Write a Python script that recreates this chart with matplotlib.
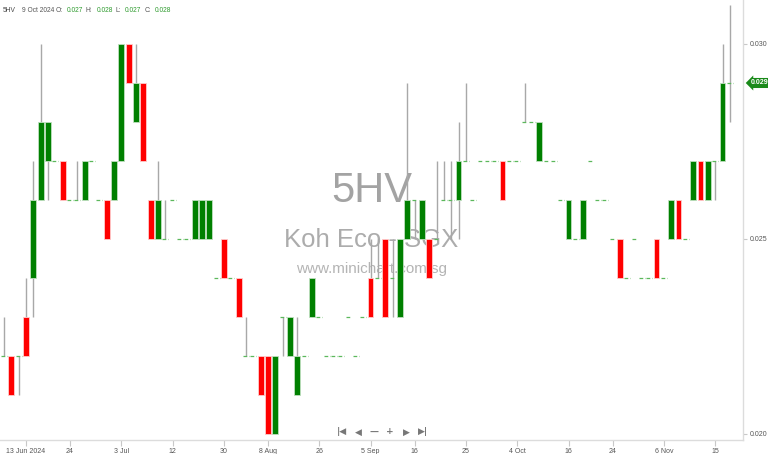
import numpy as np
import matplotlib.pyplot as plt
from matplotlib import transforms

# daily OHLC, one entry per trading day (13 Jun 2024 is index 3)
opens = [.022, .022, .022, .023, .024, .026, .027, .027, .027, .026,
         .026, .026, .027, .026, .026, .026, .027, .030, .028, .029,
         .026, .025, .025, .026, .025, .025, .025, .025, .025, .024,
         .025, .024, .024, .022, .022, .022, .022, .020, .023, .022,
         .021, .022, .023, .023, .022, .022, .022, .023, .022, .023,
         .024, .024, .025, .024, .023, .025, .026, .025, .025, .025,
         .026, .026, .026, .027, .026, .027, .027, .027, .027, .027,
         .027, .028, .028, .027, .027, .027, .026, .025, .025, .025,
         .027, .026, .026, .025, .025, .024, .025, .024, .024, .025,
         .024, .025, .026, .025, .026, .027, .026, .027, .027, .029]
highs = [.023, .022, .022, .024, .027, .030, .028, .027, .027, .026,
         .027, .027, .027, .026, .026, .027, .030, .030, .030, .029,
         .026, .027, .026, .026, .025, .025, .026, .026, .026, .024,
         .025, .024, .024, .023, .022, .022, .022, .022, .023, .023,
         .023, .022, .024, .023, .022, .022, .022, .023, .022, .023,
         .025, .025, .025, .025, .025, .029, .026, .026, .025, .027,
         .027, .027, .028, .029, .026, .027, .027, .027, .027, .027,
         .027, .029, .028, .028, .027, .027, .026, .026, .025, .026,
         .027, .026, .026, .025, .025, .024, .025, .024, .024, .025,
         .024, .026, .026, .025, .027, .027, .027, .027, .030, .031]
lows = [.022, .021, .021, .022, .023, .026, .026, .027, .026, .026,
        .026, .026, .027, .026, .025, .026, .027, .029, .028, .027,
        .025, .025, .025, .026, .025, .025, .025, .025, .025, .024,
        .024, .024, .023, .022, .022, .021, .020, .020, .022, .022,
        .021, .022, .023, .023, .022, .022, .022, .023, .022, .023,
        .023, .024, .023, .023, .023, .025, .025, .025, .024, .025,
        .026, .025, .025, .027, .026, .027, .027, .027, .026, .027,
        .027, .028, .028, .027, .027, .027, .026, .025, .025, .025,
        .027, .026, .026, .025, .024, .024, .025, .024, .024, .024,
        .024, .025, .025, .025, .026, .026, .026, .026, .027, .028]
closes = [.022, .021, .022, .022, .026, .028, .028, .027, .026, .026,
          .026, .027, .027, .026, .025, .027, .030, .029, .029, .027,
          .025, .026, .025, .026, .025, .025, .026, .026, .026, .024,
          .024, .024, .023, .022, .022, .021, .020, .022, .023, .023,
          .022, .022, .024, .023, .022, .022, .022, .023, .022, .023,
          .023, .024, .023, .024, .025, .026, .026, .026, .024, .025,
          .026, .026, .027, .027, .026, .027, .027, .027, .026, .027,
          .027, .028, .028, .028, .027, .027, .026, .026, .025, .026,
          .027, .026, .026, .025, .024, .024, .025, .024, .024, .024,
          .024, .026, .025, .025, .027, .026, .027, .027, .029, .029]

tick_idx = [3, 9, 16, 23, 30, 36, 43, 50, 56, 63, 70, 77, 83, 90, 97]
tick_labels = ['13 Jun 2024', '24', '3 Jul', '12', '30', '8 Aug', '26', '5 Sep',
               '16', '25', '4 Oct', '16', '24', '6 Nov', '15']
price_ticks = [0.020, 0.025, 0.030]

plt.rcParams['font.family'] = ['Liberation Sans', 'DejaVu Sans']
small = 5.0

o = np.array(opens)
h = np.array(highs)
l = np.array(lows)
c = np.array(closes)
x = np.arange(len(o))

fig = plt.figure(figsize=(7.68, 4.54), dpi=100)
ax = fig.add_axes([0, 14 / 454, 743 / 768, 440 / 454])

# watermark behind the candles
ax.text(0.5, 0.565, '5HV', transform=ax.transAxes, ha='center', va='center',
        fontsize=30, color='#a3a3a3', zorder=0)
ax.text(0.5, 0.455, 'Koh Eco - SGX', transform=ax.transAxes, ha='center', va='center',
        fontsize=18.5, color='#acacac', zorder=0)
ax.text(0.5, 0.388, 'www.minichart.com.sg', transform=ax.transAxes, ha='center', va='center',
        fontsize=11, color='#b4b4b4', zorder=0)

# wicks
ax.vlines(x, l, h, color='#a8a8a8', lw=1, zorder=1)

# bodies
up = c > o
down = c < o
flat = c == o
w = 0.78
ax.bar(x[up], c[up] - o[up], bottom=o[up], width=w, color='#008000',
       edgecolor='#bfe0bf', lw=0.6, zorder=2)
ax.bar(x[down], o[down] - c[down], bottom=c[down], width=w, color='#ff0000',
       edgecolor='#ffcccc', lw=0.6, zorder=2)
# unchanged days
ax.hlines(c[flat], x[flat] - w / 2, x[flat] + w / 2, color='#5cb85c', lw=0.9,
          linestyles=(0, (3, 1.5)), zorder=3)

ax.set_xlim(-0.545, 100.78)
ax.set_ylim(0.019846, 0.031128)

for s in ['top', 'left']:
    ax.spines[s].set_visible(False)
for s in ['bottom', 'right']:
    ax.spines[s].set_color('#dcdcdc')
    ax.spines[s].set_linewidth(1)

ax.set_xticks(tick_idx)
ax.set_xticklabels(tick_labels)
ax.tick_params(axis='x', length=4, width=0.8, color='#c8c8c8', labelsize=small,
               labelcolor='#555555', pad=1.5)
ax.yaxis.tick_right()
ax.set_yticks(price_ticks)
ax.set_yticklabels(['%.3f' % p for p in price_ticks])
ax.tick_params(axis='y', length=3, width=0.8, color='#c8c8c8', labelsize=small,
               labelcolor='#555555', pad=1.5)

# last price tag
trans = transforms.blended_transform_factory(ax.transAxes, ax.transData)
ax.text(1.011, closes[-1], '%.3f' % closes[-1], transform=trans, ha='left', va='center',
        fontsize=small, color='white', fontweight='bold',
        bbox=dict(boxstyle='larrow,pad=0.22', fc='#1a8a1a', ec='none'), clip_on=False)

# header line
hdr = [(3, '5HV', '#444444'), (22, '9 Oct 2024', '#555555'), (56, 'O:', '#555555'),
       (67, '0.027', '#2e9b2e'), (86, 'H:', '#555555'), (97, '0.028', '#2e9b2e'),
       (116, 'L:', '#555555'), (125, '0.027', '#2e9b2e'), (145, 'C:', '#555555'),
       (155, '0.028', '#2e9b2e')]
for px, s, col in hdr:
    fig.text(px / 768, 1 - 10 / 454, s, ha='left', va='center', fontsize=4.8, color=col)

# navigation buttons
nav = [(342, '|◀'), (358, '◀'), (374, '—'), (390, '+'), (406, '▶'), (423, '▶|')]
for px, s in nav:
    fig.text(px / 768, 1 - 432 / 454, s, ha='center', va='center', fontsize=6.5,
             color='#777777', fontweight='bold', family='DejaVu Sans')

fig.savefig('out.png', dpi=100)
